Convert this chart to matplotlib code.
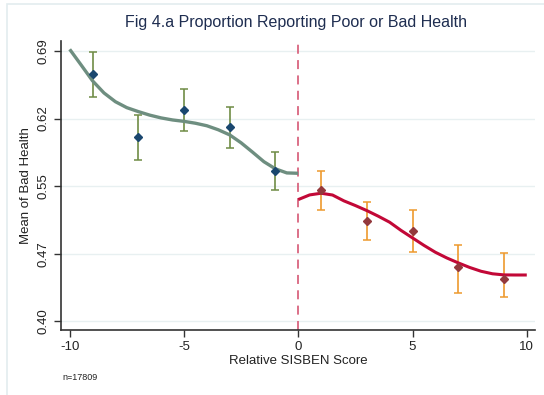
import matplotlib
matplotlib.use("Agg")
import matplotlib.pyplot as plt
from matplotlib.patches import Rectangle
import numpy as np

plt.rcParams['font.family'] = ['Liberation Sans', 'DejaVu Sans']

# Binned means with confidence intervals
x_left = [-9, -7, -5, -3, -1]
y_left = [0.6653, 0.5977, 0.6267, 0.6081, 0.5612]
lo_left = [0.6402, 0.5731, 0.6045, 0.5859, 0.5404]
hi_left = [0.6893, 0.6210, 0.6496, 0.6296, 0.5813]

x_right = [1, 3, 5, 7, 9]
y_right = [0.5412, 0.5079, 0.4972, 0.4579, 0.4457]
lo_right = [0.5197, 0.4875, 0.4740, 0.4307, 0.4265]
hi_right = [0.5612, 0.5283, 0.5197, 0.4819, 0.4736]

# Smoothed fits
fit_left_x = [-10, -9.5, -9, -8.5, -8, -7.5, -7, -6.5, -6, -5.5, -5, -4.5, -4, -3.5, -3, -2.5, -2, -1.5, -1, -0.5, 0]
fit_left_y = [0.6918, 0.6750, 0.6580, 0.6450, 0.6356, 0.6292, 0.6250, 0.6212, 0.6182, 0.6160, 0.6145, 0.6125, 0.6098, 0.6055, 0.6000, 0.5915, 0.5815, 0.5712, 0.5636, 0.5592, 0.5588]

fit_right_x = [0, 0.5, 1, 1.5, 2, 2.5, 3, 3.5, 4, 4.5, 5, 5.5, 6, 6.5, 7, 7.5, 8, 8.5, 9, 9.5, 10]
fit_right_y = [0.5306, 0.5356, 0.5374, 0.5355, 0.5292, 0.5242, 0.5188, 0.5128, 0.5063, 0.4975, 0.4895, 0.4815, 0.4741, 0.4680, 0.4627, 0.4578, 0.4537, 0.4510, 0.4498, 0.4497, 0.4497]

y_ticks = [0.40, 0.4725, 0.545, 0.6175, 0.69]
y_tick_labels = ["0.40", "0.47", "0.55", "0.62", "0.69"]
x_ticks = [-10, -5, 0, 5, 10]
x_tick_labels = ["-10", "-5", "0", "5", "10"]

fig = plt.figure(figsize=(5.44, 3.95), dpi=100)
fig.patch.set_facecolor('white')
# light outer frame
fig.patches.append(Rectangle((7/544, -0.1), 1.2, (395-4)/395 + 0.1, transform=fig.transFigure,
                             fill=False, edgecolor='#e3ecef', linewidth=1.2))

ax = fig.add_axes([61/544, 1-330/395, (535-61)/544, (330-41)/395])
ax.set_xlim(-10.38, 10.36)
ax.set_ylim(0.3907, 0.7007)

for t in y_ticks:
    ax.axhline(t, color='#e8f0f1', linewidth=1.0, zorder=0)

ax.axvline(0, color='#d9657f', linewidth=1.3, linestyle=(0, (5, 3.5)), zorder=1)

ax.plot(fit_left_x, fit_left_y, color='#6e8e80', linewidth=2.4, zorder=3,
        solid_capstyle='butt', solid_joinstyle='round')
ax.plot(fit_right_x, fit_right_y, color='#c20837', linewidth=2.2, zorder=3,
        solid_capstyle='butt', solid_joinstyle='round')

yl = np.array(y_left)
ax.errorbar(x_left, yl, yerr=[yl - np.array(lo_left), np.array(hi_left) - yl], fmt='none',
            ecolor='#6f8c45', elinewidth=1.2, capsize=3, capthick=1.1, zorder=2)
ax.plot(x_left, y_left, linestyle='none', marker='D', markersize=3.6, color='#1a476f', zorder=4)

yr = np.array(y_right)
ax.errorbar(x_right, yr, yerr=[yr - np.array(lo_right), np.array(hi_right) - yr], fmt='none',
            ecolor='#ee9a2e', elinewidth=1.2, capsize=3, capthick=1.1, zorder=2)
ax.plot(x_right, y_right, linestyle='none', marker='D', markersize=3.6, color='#93393d', zorder=4)

ax.set_xticks(x_ticks)
ax.set_xticklabels(x_tick_labels)
ax.set_yticks(y_ticks)
ax.set_yticklabels(y_tick_labels, rotation=90, va='center')
ax.tick_params(axis='both', direction='out', length=5, width=1, color='#333333',
               labelsize=9.5, labelcolor='#222222', pad=3)

for s in ['top', 'right']:
    ax.spines[s].set_visible(False)
for s in ['left', 'bottom']:
    ax.spines[s].set_color('#333333')
    ax.spines[s].set_linewidth(1.2)

ax.set_xlabel("Relative SISBEN Score", fontsize=9.5, color='#222222', labelpad=1)
ax.set_ylabel("Mean of Bad Health", fontsize=9.5, color='#222222', labelpad=4)

fig.text(296/544, 1-22/395, "Fig 4.a Proportion Reporting Poor or Bad Health", ha='center', va='center',
         fontsize=11.5, color='#1e2d50')
fig.text(62/544, 1-378/395, "n=17809", ha='left', va='center', fontsize=6.5, color='#222222')

fig.savefig("out.png", dpi=100, facecolor='white')
